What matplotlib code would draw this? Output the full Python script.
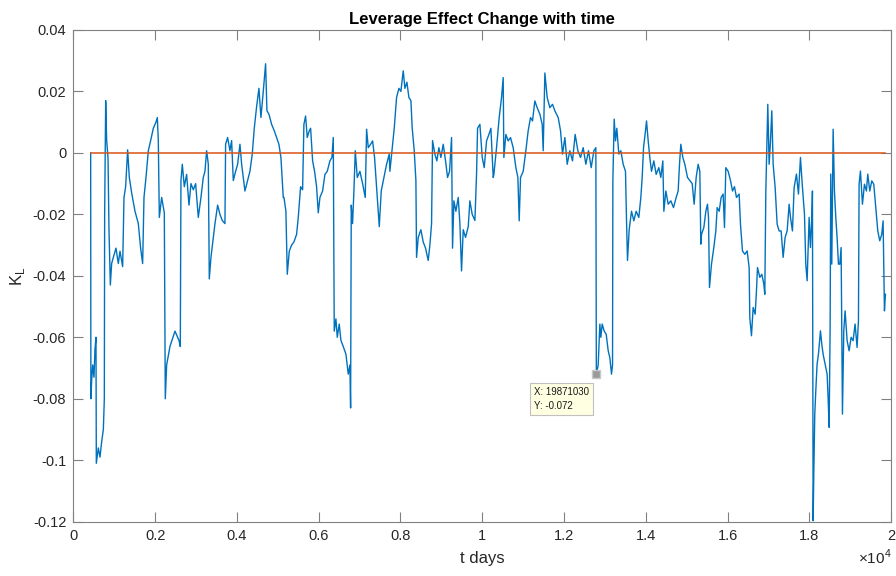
import numpy as np
import matplotlib
matplotlib.use("Agg")
import matplotlib.pyplot as plt

plt.rcParams['font.family'] = ['Liberation Sans', 'DejaVu Sans']
plt.rcParams['mathtext.fontset'] = 'custom'
plt.rcParams['mathtext.rm'] = 'Liberation Sans'

# leverage effect K_L (t in days)
t_days = [
    425, 430, 449, 474, 506, 530, 555, 563, 612, 653, 694, 735, 759, 767, 792, 816, 849, 873, 906, 938,
    979, 1044, 1101, 1142, 1207, 1240, 1280, 1329, 1370, 1427, 1509, 1590, 1647, 1696, 1729, 1778, 1835,
    1892, 1957, 2022, 2055, 2079, 2104, 2161, 2226, 2250, 2283, 2364, 2487,
    2584, 2617, 2633, 2666, 2715, 2772, 2829, 2878, 2935, 2992, 3057, 3122, 3179, 3220, 3261, 3302, 3326,
    3367, 3424, 3465, 3530, 3587, 3644, 3709, 3725, 3774, 3831, 3872, 3913, 3970, 4019, 4076, 4117, 4198,
    4263, 4320, 4377, 4426, 4483, 4540, 4589, 4646, 4703, 4736, 4785, 4850, 4915, 4972, 5029, 5078, 5135,
    5152, 5200, 5233, 5282, 5339, 5396, 5461, 5502, 5559, 5608, 5640, 5681, 5722, 5771, 5804, 5853, 5901,
    5950, 5991, 6032, 6097, 6154, 6211, 6276, 6325, 6358, 6382, 6423, 6456, 6504, 6545, 6602, 6668, 6725,
    6765, 6782, 6798, 6830, 6863, 6896, 6945, 7010, 7075, 7140, 7173, 7214, 7271, 7320, 7368, 7417, 7483,
    7531, 7597, 7662, 7727,
    7743, 7800, 7849, 7906, 7963, 8012, 8069, 8110, 8159, 8208, 8257, 8289, 8338, 8379, 8395, 8436, 8501,
    8558, 8615, 8680, 8721, 8762, 8786, 8843, 8892, 8941, 8990, 9047, 9104, 9153, 9202, 9251, 9275, 9308,
    9357, 9414, 9455, 9495, 9536, 9593, 9659, 9699, 9756, 9822, 9862, 9887, 9944, 10001, 10050, 10107,
    10164, 10213, 10270,
    10286, 10351, 10416, 10473, 10514, 10530, 10579, 10636, 10693, 10758, 10824, 10873, 10905, 10938,
    11003, 11068, 11125, 11182, 11231, 11288, 11345, 11411, 11468, 11492, 11533, 11590, 11655, 11720,
    11777, 11859, 11916, 11965, 12022, 12079, 12144, 12209, 12274, 12340, 12405, 12470, 12535, 12600,
    12666, 12731, 12780, 12792, 12837, 12878,
    12902, 12935, 12984, 13033, 13082, 13122, 13163, 13188, 13196, 13228, 13261, 13293, 13342, 13391,
    13448, 13505, 13530, 13554, 13595, 13652, 13709, 13766, 13831, 13880, 13913, 13946, 13994, 14019,
    14060, 14100, 14141, 14198, 14255, 14320, 14369, 14418, 14443, 14492, 14549, 14614, 14679, 14744,
    14793, 14826, 14858, 14907, 14956, 15021, 15078, 15136, 15184, 15233, 15282, 15323, 15347,
    15364, 15421, 15470, 15510, 15535, 15559, 15608, 15665, 15714, 15747, 15796, 15844, 15893, 15926,
    15958, 16016, 16073, 16122, 16170, 16219, 16284, 16317, 16366, 16423, 16480, 16529, 16545, 16586,
    16627, 16676, 16708, 16733, 16790, 16839, 16888, 16912, 16937, 16969, 16985, 17018, 17051, 17083,
    17116, 17165, 17214, 17262, 17311, 17360, 17409, 17458, 17507, 17540, 17588, 17629, 17686, 17735,
    17784, 17833, 17882, 17914, 17947, 17996,
    18028, 18061, 18077, 18094, 18110, 18134, 18159, 18191, 18224, 18273, 18305, 18338, 18387, 18436,
    18460, 18485, 18509, 18525, 18550, 18583, 18615, 18648, 18680, 18713, 18746, 18778, 18811, 18843,
    18876, 18925, 18974, 19023, 19071, 19120, 19169, 19202, 19218, 19251, 19300, 19349, 19397, 19430,
    19479, 19528, 19577, 19626, 19675, 19723, 19772, 19805, 19838, 19862,
]
k_lev = [
    0, -0.080, -0.074, -0.069, -0.073, -0.064, -0.060, -0.101, -0.096, -0.099, -0.094, -0.090, -0.080,
    -0.020, 0.017, 0.004, -0.0015, -0.025, -0.043, -0.036, -0.034, -0.031, -0.036, -0.032, -0.037,
    -0.0145, -0.011, 0.001, -0.008, -0.013, -0.019, -0.023, -0.031, -0.036, -0.0145, -0.008, 0.0007,
    0.004, 0.008, 0.010, 0.0115, 0.004, -0.021, -0.0145, -0.0195, -0.080, -0.069, -0.063, -0.058,
    -0.061, -0.063, -0.009, -0.0037, -0.011, -0.007, -0.017, -0.010, -0.012, -0.010, -0.021, -0.0145,
    -0.008, -0.006, 0.0007, -0.0037, -0.041, -0.034, -0.0275, -0.023, -0.017, -0.020, -0.022, -0.023,
    0.0028, 0.005, 0.0007, 0.004, -0.009, -0.006, -0.0037, 0.0028, -0.0037, -0.0124, -0.009, -0.006,
    -0.0004, 0.008, 0.015, 0.021, 0.0115, 0.020, 0.029, 0.0137, 0.0126, 0.0093, 0.0072, 0.005, 0.0028,
    -0.0015, -0.0145,
    -0.0145, -0.019, -0.0395, -0.032, -0.030, -0.029, -0.0265, -0.021, -0.011, -0.012, 0.0093, 0.012,
    0.005, 0.0072, 0.008, -0.0026, -0.006, -0.011, -0.0195, -0.0145, -0.0124, -0.007, -0.006, -0.0026,
    -0.0015, 0.005, -0.058, -0.054, -0.060, -0.0557, -0.061, -0.063, -0.0655, -0.072, -0.069, -0.083,
    -0.017, -0.023, -0.0124, 0.0007, -0.008, -0.006, -0.010, -0.0145, 0.0077, 0.0017, 0.0028, 0.0039,
    -0.0015, -0.011, -0.024, -0.0124, -0.008, -0.0037, -0.0004,
    -0.006, 0.0017, 0.008, 0.018, 0.021, 0.020, 0.0267, 0.021, 0.023, 0.018, 0.017, 0.008, 0.0007,
    -0.009, -0.034, -0.0275, -0.025, -0.029, -0.031, -0.035, -0.030, -0.023, 0.004, -0.0004, -0.0026,
    0.0017, -0.0015, 0.0028, -0.0026, -0.008, -0.006, 0.005, -0.031, -0.0156, -0.019, -0.0145, -0.023,
    -0.0384, -0.025, -0.0275, -0.024, -0.0156, -0.020, -0.022, -0.007, 0.008, 0.0093, -0.0015, -0.0048,
    0.0039, 0.006, 0.008, -0.008,
    -0.007, 0.0017, 0.0115, 0.018, 0.0245, -0.0015, 0.006, 0.0039, 0.005, 0.0017, -0.0048, -0.008,
    -0.0221, -0.008, -0.006, 0.0007, 0.0072, 0.0115, 0.0104, 0.0169, 0.0147, 0.0126, 0.0093, 0.0007,
    0.026, 0.018, 0.0147, 0.0158, 0.0137, 0.0115, 0.0072, -0.0004, 0.005, -0.0037, 0.0007, -0.0026,
    0.006, 0.0007, -0.0015, 0.0017, -0.0037, 0.0007, -0.0048, 0.0007, 0.0017, -0.072, -0.069, -0.0557,
    -0.060, -0.0557, -0.058, -0.059, -0.0644, -0.0666, -0.072, -0.069, -0.009, 0.011, 0.0039, 0.008,
    -0.0004, 0.0007, -0.0037, -0.006, -0.0221, -0.035, -0.025, -0.019, -0.0221, -0.019, -0.021, -0.0145,
    -0.008, 0.0017, 0.0072, 0.0104, 0.0039, -0.0015, -0.006, -0.0026, -0.007, -0.0048, -0.008, -0.0026,
    -0.019, -0.0124, -0.0167, -0.0156, -0.0178, -0.0145, -0.0124, -0.0037, 0.0028, -0.0015, -0.0037,
    -0.008, -0.009, -0.010, -0.0167, -0.008, -0.0037, -0.006, -0.0297,
    -0.0265, -0.0243, -0.019, -0.0167, -0.021, -0.0438, -0.0362, -0.0308, -0.0254, -0.0178, -0.019,
    -0.0145, -0.0134, -0.0243, -0.0048, -0.006, -0.009, -0.0124, -0.011, -0.0145, -0.0134, -0.0232,
    -0.0319, -0.033, -0.0319, -0.0373, -0.0536, -0.0595, -0.0503, -0.0525, -0.0449, -0.0373, -0.0405,
    -0.0395, -0.0427, -0.046, -0.0124, 0.0072, 0.0158, -0.0037, 0.0039, 0.0137, -0.0037, -0.0113,
    -0.0232, -0.0254, -0.0254, -0.034, -0.0275, -0.0254, -0.0167, -0.021, -0.0254, -0.0113, -0.0069,
    -0.0134, -0.0015, -0.0113, -0.0199, -0.0362, -0.0416, -0.021,
    -0.0308, -0.021, -0.0124, -0.1197, -0.1045, -0.085, -0.0774, -0.0687, -0.0655, -0.0579, -0.0622,
    -0.0655, -0.0687, -0.072, -0.0796, -0.0893, -0.0579, -0.0069, -0.0362, 0.0077, -0.0124, -0.021,
    -0.0275, -0.0362, -0.0362, -0.0308, -0.085, -0.0579, -0.0514, -0.0611, -0.0644, -0.06, -0.0611,
    -0.0557, -0.0633, -0.0546, -0.0102, -0.0059, -0.0167, -0.0102, -0.0124, -0.0069, -0.0124, -0.0091,
    -0.0102, -0.0178, -0.0254, -0.0286, -0.0265, -0.0221, -0.0514, -0.046,
]

tip_x, tip_y = 12792, -0.072
tip_text = 'X: 19871030\nY: -0.072'

xticks = [0, 2000, 4000, 6000, 8000, 10000, 12000, 14000, 16000, 18000, 20000]
xticklabels = ['0', '0.2', '0.4', '0.6', '0.8', '1', '1.2', '1.4', '1.6', '1.8', '2']
yticks = [-0.12, -0.1, -0.08, -0.06, -0.04, -0.02, 0, 0.02, 0.04]
yticklabels = ['-0.12', '-0.1', '-0.08', '-0.06', '-0.04', '-0.02', '0', '0.02', '0.04']

fig = plt.figure(figsize=(8.96, 5.76), dpi=100)
ax = fig.add_axes([0.0818, 0.0943, 0.9127, 0.8537])

ax.plot(t_days, k_lev, color='#0072BD', lw=1.0)
ax.plot([t_days[0], t_days[-1]], [0, 0], color='#D95319', lw=1.1)

# data tip
ax.plot([tip_x], [tip_y], 's', color='#9a9a9a', mec='#c8c8c8', ms=6, zorder=5)
ax.annotate(tip_text, xy=(tip_x, tip_y), xytext=(-7, -13), textcoords='offset pixels',
            ha='right', va='top', multialignment='left', fontsize=7, color='#1a1a1a',
            linespacing=1.5,
            bbox=dict(boxstyle='square,pad=0.4', fc='#ffffe1', ec='#c0c0c0', lw=0.8), zorder=6)

ax.set_xlim(0, 20000)
ax.set_ylim(-0.12, 0.04)
ax.set_xticks(xticks)
ax.set_xticklabels(xticklabels)
ax.set_yticks(yticks)
ax.set_yticklabels(yticklabels)
ax.tick_params(direction='in', length=7, width=0.8, color='#808080', labelcolor='#262626',
               labelsize=10.5, top=True, right=True, pad=5)
for s in ax.spines.values():
    s.set_color('#808080')
    s.set_linewidth(0.8)

ax.set_title('Leverage Effect Change with time', fontsize=12, fontweight='bold', pad=4)
ax.set_xlabel('t days', fontsize=12, color='#262626', labelpad=6)
ax.set_ylabel('K$_\\mathrm{L}$', fontsize=12, color='#262626', labelpad=4)
fig.text(0.958, 0.02, '$\\times$10$^4$', fontsize=11, color='#262626')

fig.savefig('out.png', dpi=100)
